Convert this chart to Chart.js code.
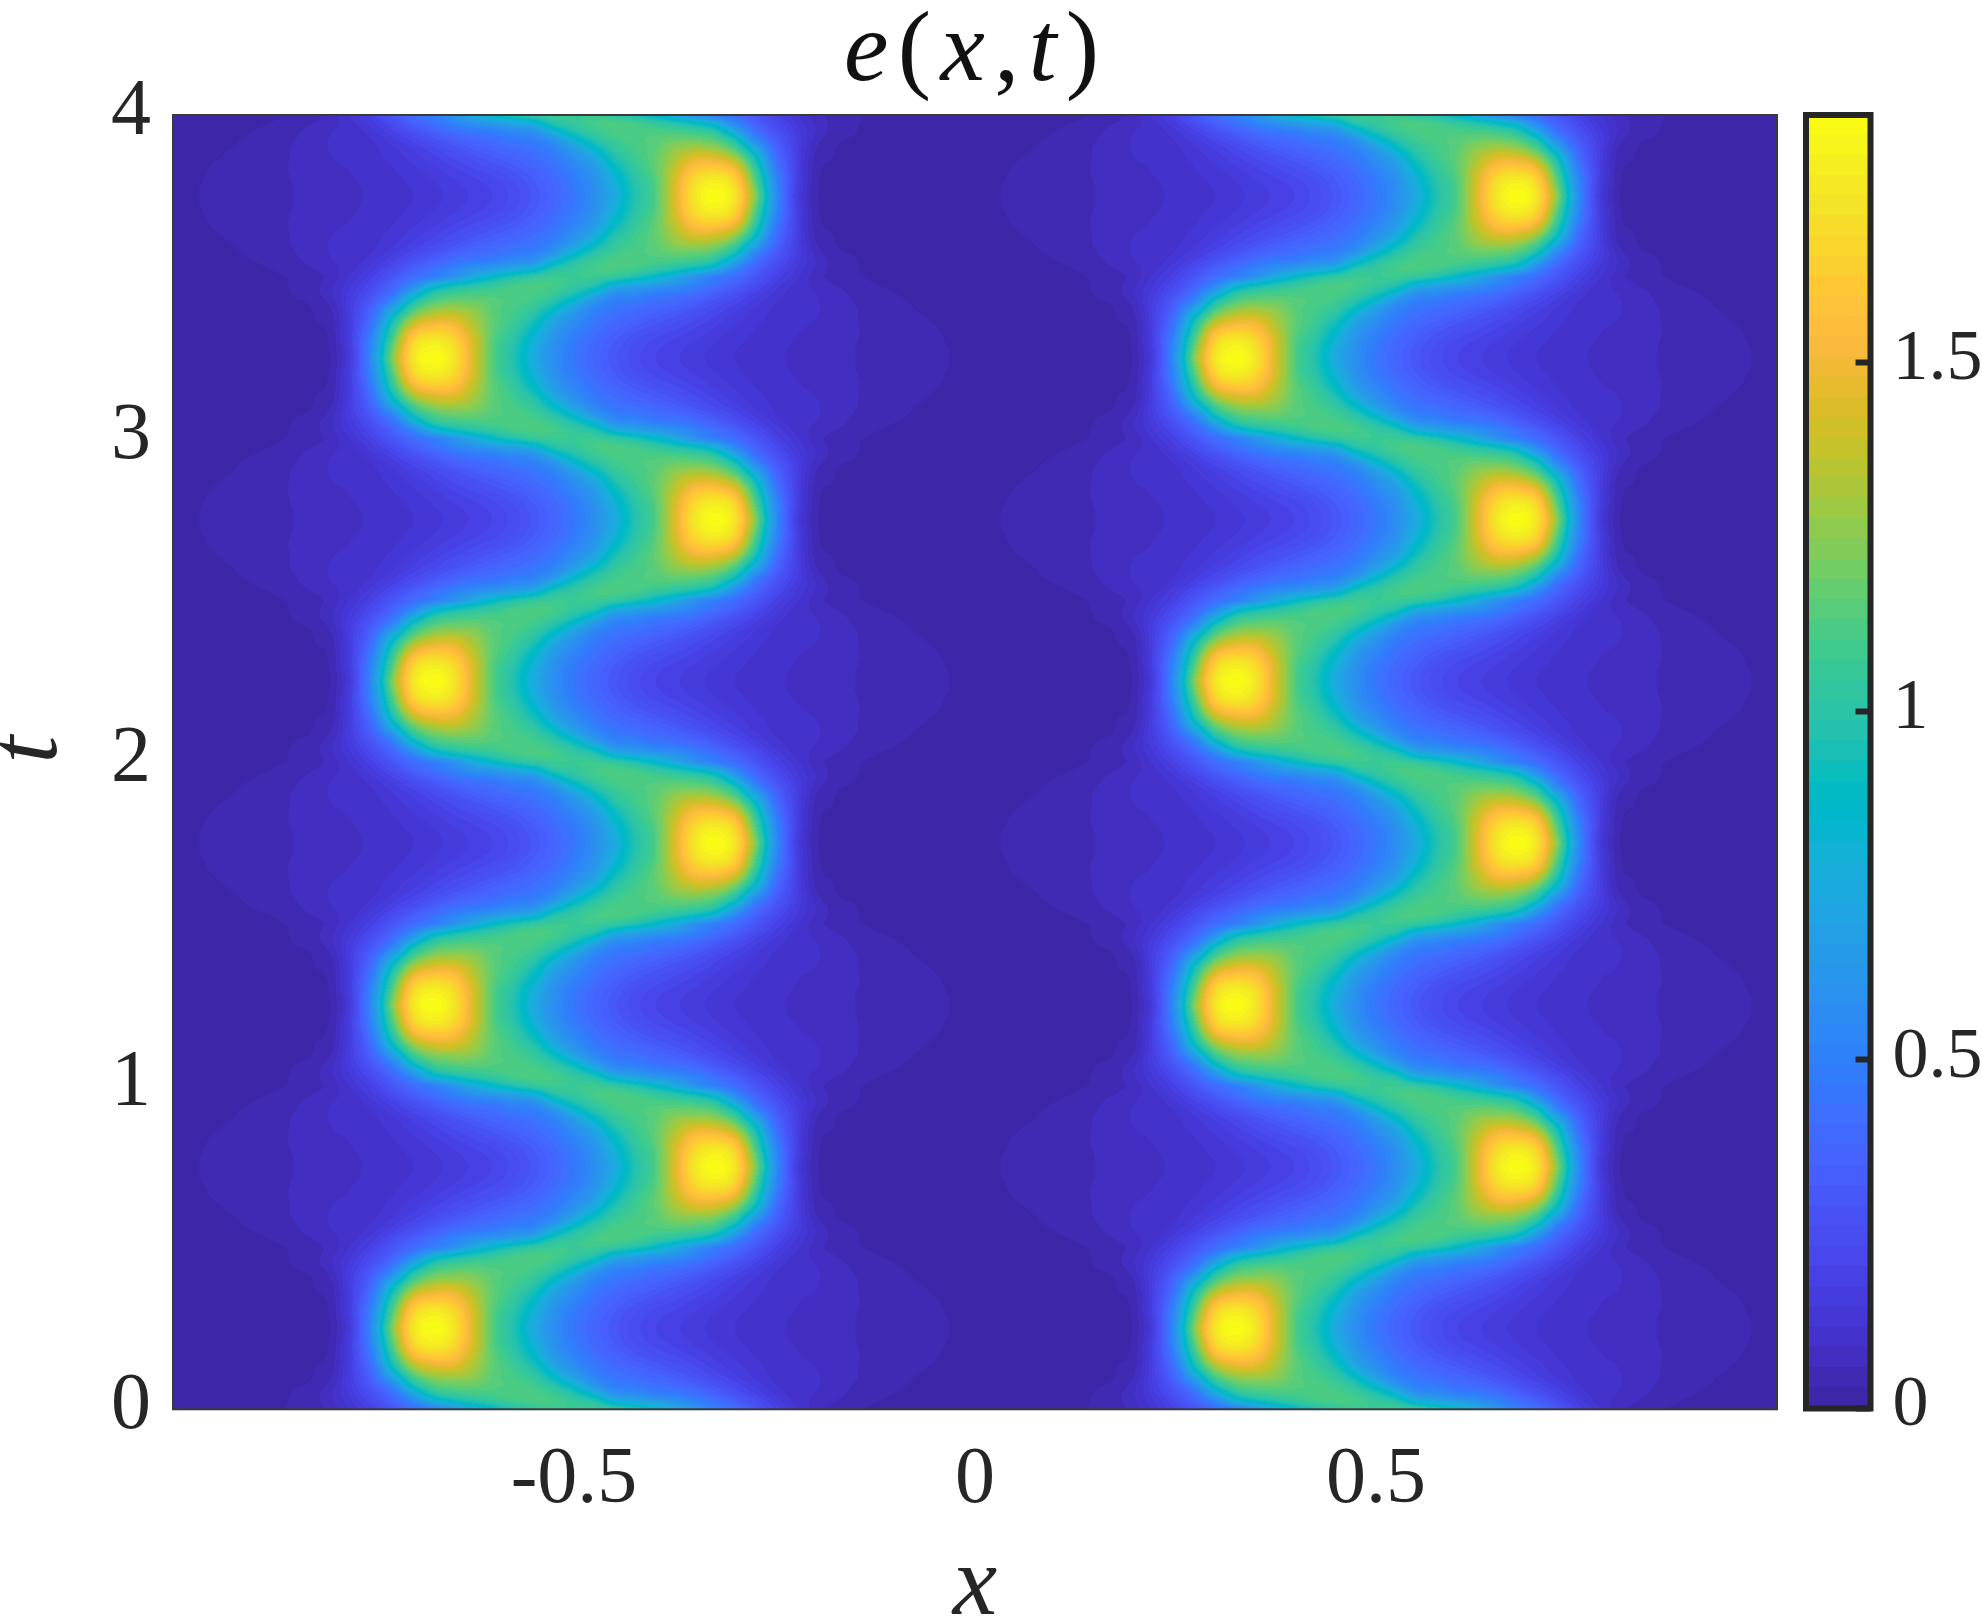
<!DOCTYPE html>
<html>
<head>
<meta charset="utf-8">
<title>e(x,t)</title>
<script src="https://cdn.jsdelivr.net/npm/chart.js@4/dist/chart.umd.js"></script>
<style>
  html, body { margin: 0; padding: 0; background: #fff; }
  #wrap { position: relative; width: 1982px; height: 1618px; overflow: hidden; }
  canvas { position: absolute; top: 0; }
  #field { left: 0; }
  #bar { left: 1780px; }
</style>
</head>
<body>
<div id="wrap">
  <canvas id="field" width="1800" height="1618"></canvas>
  <canvas id="bar" width="202" height="1618"></canvas>
</div>
<script>
// === values: e at x = -1, -0.975, ... 0, one row per t ===
const row250 = [.02,.02,.02,.02,.02,.02,.02,.024,.04,.2,.62,1.26,1.74,1.85,1.74,1.42,1.12,.96,.74,.58,.46,.37,.30,.245,.205,.18,.157,.135,.116,.104,.093,.082,.073,.066,.058,.052,.045,.039,.033,.027,.02];
const row275 = [.02,.02,.02,.02,.02,.02,.02,.024,.042,.21,.6,1.22,1.71,1.82,1.72,1.42,1.12,.97,.76,.585,.465,.375,.305,.25,.21,.185,.161,.138,.118,.105,.094,.083,.074,.066,.058,.052,.045,.039,.033,.027,.02];
const row300 = [.02,.02,.02,.02,.02,.02,.021,.025,.045,.22,.58,1.16,1.66,1.77,1.68,1.41,1.13,.99,.79,.6,.48,.39,.32,.265,.225,.197,.172,.147,.125,.108,.096,.086,.076,.067,.059,.052,.045,.039,.032,.026,.02];
const row325 = [.02,.02,.02,.02,.02,.02,.021,.026,.047,.215,.54,1.09,1.56,1.67,1.61,1.38,1.15,1.02,.84,.63,.51,.415,.345,.29,.25,.22,.19,.16,.134,.113,.099,.089,.08,.069,.06,.052,.045,.038,.031,.025,.02];
const row350 = [.02,.02,.02,.02,.02,.02,.021,.027,.05,.21,.49,1.0,1.42,1.54,1.52,1.34,1.16,1.05,.9,.68,.55,.445,.375,.325,.285,.25,.213,.178,.147,.12,.102,.09,.085,.072,.06,.052,.044,.036,.029,.024,.02];
const row375 = [.019,.02,.02,.02,.02,.02,.022,.028,.056,.205,.44,.89,1.26,1.4,1.41,1.3,1.16,1.08,.97,.76,.6,.48,.41,.365,.325,.285,.245,.2,.163,.13,.106,.091,.088,.074,.06,.05,.041,.033,.026,.022,.019];
const row400 = [.019,.02,.02,.02,.02,.021,.024,.03,.065,.2,.39,.73,1.1,1.26,1.29,1.25,1.15,1.1,1.03,.87,.68,.53,.45,.41,.37,.33,.28,.23,.182,.142,.11,.091,.09,.075,.06,.048,.037,.029,.024,.021,.019];
const row425 = [.018,.02,.02,.02,.021,.023,.027,.036,.08,.19,.33,.56,.94,1.13,1.18,1.18,1.14,1.12,1.08,.98,.82,.62,.5,.47,.42,.39,.34,.28,.22,.165,.12,.095,.09,.074,.056,.043,.033,.027,.023,.02,.018];
const row450 = [.018,.019,.02,.021,.023,.026,.03,.047,.09,.17,.28,.44,.73,.99,1.07,1.1,1.11,1.12,1.11,1.06,.96,.8,.6,.56,.5,.47,.42,.34,.27,.2,.14,.1,.087,.07,.05,.037,.029,.025,.022,.02,.018];
const row475 = [.016,.017,.019,.02,.022,.026,.031,.047,.085,.15,.24,.36,.54,.77,.89,.97,1.03,1.09,1.11,1.1,1.04,.98,.8,.72,.66,.6,.52,.43,.34,.25,.17,.11,.08,.058,.04,.03,.025,.022,.02,.018,.016];
const row500 = [.015,.016,.018,.02,.022,.026,.032,.045,.075,.13,.2,.3,.41,.5,.61,.75,.87,.96,1.03,1.07,1.07,1.07,1.03,.96,.87,.75,.61,.5,.41,.3,.2,.13,.075,.045,.032,.026,.022,.02,.018,.016,.015];

const xTicks = [-0.5, 0, 0.5];
const xTickLabels = ['-0.5', '0', '0.5'];
const tTicks = [0, 1, 2, 3, 4];
const barTicks = [0, 0.5, 1, 1.5];
const barTickLabels = ['0', '0.5', '1', '1.5'];
const eMax = 1.855;

const parula = [
  [.2422,.1504,.6603],[.2504,.1650,.7076],[.2578,.1818,.7511],[.2647,.1978,.7952],
  [.2706,.2147,.8364],[.2751,.2342,.8710],[.2783,.2559,.8991],[.2803,.2782,.9221],
  [.2813,.3006,.9414],[.2810,.3228,.9579],[.2795,.3447,.9717],[.2760,.3667,.9829],
  [.2699,.3892,.9906],[.2602,.4123,.9952],[.2440,.4358,.9988],[.2206,.4603,.9973],
  [.1963,.4847,.9892],[.1834,.5074,.9798],[.1786,.5289,.9682],[.1764,.5499,.9520],
  [.1687,.5703,.9359],[.1540,.5902,.9218],[.1460,.6091,.9079],[.1380,.6276,.8973],
  [.1248,.6459,.8883],[.1113,.6635,.8763],[.0952,.6798,.8598],[.0689,.6948,.8394],
  [.0297,.7082,.8163],[.0036,.7203,.7917],[.0067,.7312,.7660],[.0433,.7411,.7394],
  [.0964,.7500,.7120],[.1408,.7584,.6842],[.1717,.7670,.6554],[.1938,.7758,.6251],
  [.2161,.7843,.5923],[.2470,.7918,.5567],[.2906,.7973,.5188],[.3406,.8008,.4789],
  [.3909,.8029,.4354],[.4456,.8024,.3909],[.5044,.7993,.3480],[.5616,.7942,.3045],
  [.6174,.7876,.2612],[.6720,.7793,.2227],[.7242,.7698,.1910],[.7738,.7598,.1646],
  [.8203,.7498,.1535],[.8634,.7406,.1596],[.9035,.7330,.1774],[.9393,.7288,.2100],
  [.9728,.7298,.2394],[.9956,.7434,.2371],[.9970,.7659,.2199],[.9952,.7861,.1990],
  [.9892,.8137,.1885],[.9786,.8386,.1766],[.9676,.8639,.1643],[.9610,.8890,.1537],
  [.9597,.9135,.1423],[.9628,.9373,.1265],[.9691,.9606,.1064],[.9769,.9839,.0805]
];

const ink = '#262626';
const serif = '"Liberation Serif", serif';

// the picture repeats: each 0.5 in t the same rows come back mirrored about x = -0.5
const half = [row500, row475, row450, row425, row400, row375, row350, row325, row300, row275,
  row250, row275, row300, row325, row350, row375, row400, row425, row450, row475];
const period = half.concat(half.map((r) => r.slice().reverse()));
const rows = [];
for (let p = 0; p < 4; p++) period.forEach((r) => rows.push(r.concat(r.slice(1))));
rows.push(row500.concat(row500.slice(1)));

const dx = 0.025, dt = 0.025;
const points = [];
rows.forEach((r, j) => r.forEach((v, i) => points.push({ x: -1 + i * dx, y: j * dt, v: v })));

function catmull(a, b, c, d, f) {
  return b + 0.5 * f * (c - a + f * (2 * a - 5 * b + 4 * c - d + f * (3 * (b - c) + d - a)));
}

function sampleAt(x, t) {
  const nx = rows[0].length, ny = rows.length;
  const gx = (x + 1) / dx, gy = t / dt;
  const i = Math.min(Math.floor(gx), nx - 2), j = Math.min(Math.floor(gy), ny - 2);
  const fx = gx - i, fy = gy - j;
  const col = [];
  for (let m = -1; m <= 2; m++) {
    const r = rows[Math.max(0, Math.min(ny - 1, j + m))];
    col.push(catmull(r[Math.max(0, i - 1)], r[i], r[i + 1], r[Math.min(nx - 1, i + 2)], fx));
  }
  return catmull(col[0], col[1], col[2], col[3], fy);
}

// paints the e(x,t) surface in the plot area, 64 colour levels like contourf
const surfacePlugin = {
  id: 'surface',
  beforeDatasetsDraw(chart) {
    const area = chart.chartArea, xs = chart.scales.x, ys = chart.scales.y;
    const w = Math.round(area.right - area.left), h = Math.round(area.bottom - area.top);
    const off = document.createElement('canvas');
    off.width = w; off.height = h;
    const octx = off.getContext('2d');
    const img = octx.createImageData(w, h);
    for (let py = 0; py < h; py++) {
      const t = ys.getValueForPixel(area.top + py + 0.5);
      for (let px = 0; px < w; px++) {
        const x = xs.getValueForPixel(area.left + px + 0.5);
        const lev = Math.max(0, Math.min(63, Math.floor(sampleAt(x, t) / eMax * 64)));
        const c = parula[lev], o = (py * w + px) * 4;
        img.data[o] = c[0] * 255; img.data[o + 1] = c[1] * 255; img.data[o + 2] = c[2] * 255; img.data[o + 3] = 255;
      }
    }
    octx.putImageData(img, 0, 0);
    chart.ctx.drawImage(off, area.left, area.top);
  },
  afterDraw(chart) {
    const area = chart.chartArea, ctx = chart.ctx;
    ctx.save();
    ctx.strokeStyle = '#3a3a3a';
    ctx.lineWidth = 2;
    ctx.strokeRect(area.left, area.top, area.right - area.left, area.bottom - area.top);
    // title, roman brackets and italic letters
    const runs = [['e', 1], ['(', 0], ['x', 1], [',', 0], ['t', 1], [')', 0]];
    ctx.fillStyle = '#111';
    ctx.textBaseline = 'alphabetic';
    ctx.textAlign = 'left';
    let x = 844;
    runs.forEach(([s, it]) => {
      ctx.font = (it ? 'italic ' : '') + '100px ' + serif;
      ctx.fillText(s, x, 80);
      x += ctx.measureText(s).width + 9.4;
    });
    ctx.restore();
  }
};

new Chart(document.getElementById('field'), {
  type: 'scatter',
  data: { datasets: [{ label: 'e(x,t)', data: points, pointRadius: 0, pointHoverRadius: 0 }] },
  plugins: [surfacePlugin],
  options: {
    responsive: false,
    animation: false,
    events: [],
    layout: { padding: { top: 115, right: 23, left: 0, bottom: 0 } },
    plugins: { legend: { display: false }, tooltip: { enabled: false } },
    scales: {
      x: {
        type: 'linear', min: -1, max: 1,
        grid: { display: false }, border: { display: false },
        afterBuildTicks: (s) => { s.ticks = xTicks.map((v) => ({ value: v })); },
        afterFit: (s) => { s.height = 208.7; },
        ticks: {
          autoSkip: false, maxRotation: 0, padding: 24, color: ink,
          font: { family: serif, size: 80, lineHeight: 1 },
          callback: (v) => xTickLabels[xTicks.indexOf(v)]
        },
        title: { display: true, text: 'x', color: ink, padding: 0, font: { family: serif, size: 100, style: 'italic', lineHeight: 0.6 } }
      },
      y: {
        type: 'linear', min: 0, max: 4,
        grid: { display: false }, border: { display: false },
        afterBuildTicks: (s) => { s.ticks = tTicks.map((v) => ({ value: v })); },
        afterFit: (s) => { s.width = 173; },
        ticks: {
          padding: 14, color: ink, labelOffset: -2,
          font: { family: serif, size: 80, lineHeight: 1 },
          callback: (v) => String(v)
        },
        title: { display: true, text: ' t', color: ink, padding: 0, font: { family: serif, size: 100, style: 'italic', lineHeight: 0.6 } }
      }
    }
  }
});

// === colour bar, one stacked bar per colour level ===
const levelHeight = eMax / parula.length;
const barSets = parula.map((c) => ({
  data: [levelHeight],
  backgroundColor: `rgb(${Math.round(c[0] * 255)},${Math.round(c[1] * 255)},${Math.round(c[2] * 255)})`,
  borderWidth: 0,
  inflateAmount: 1,
  barPercentage: 1,
  categoryPercentage: 1
}));

const framePlugin = {
  id: 'frame',
  afterDraw(chart) {
    const area = chart.chartArea, ctx = chart.ctx;
    ctx.save();
    ctx.strokeStyle = ink;
    ctx.lineWidth = 6;
    ctx.strokeRect(area.left, area.top, area.right - area.left, area.bottom - area.top);
    ctx.restore();
  }
};

new Chart(document.getElementById('bar'), {
  type: 'bar',
  data: { labels: ['e'], datasets: barSets },
  plugins: [framePlugin],
  options: {
    responsive: false,
    animation: false,
    events: [],
    layout: { padding: { top: 115, left: 26, right: 0, bottom: 209.5 } },
    plugins: { legend: { display: false }, tooltip: { enabled: false } },
    scales: {
      x: { stacked: true, display: false },
      y: {
        stacked: true, position: 'right', min: 0, max: eMax,
        border: { display: false },
        grid: { drawOnChartArea: false, tickLength: -15, tickWidth: 6, tickColor: ink, z: 1 },
        afterBuildTicks: (s) => { s.ticks = barTicks.map((v) => ({ value: v })); },
        afterFit: (s) => { s.width = 111.5; },
        ticks: {
          padding: 37, color: ink, labelOffset: -2,
          font: { family: serif, size: 72, lineHeight: 1 },
          callback: (v) => barTickLabels[barTicks.indexOf(v)]
        }
      }
    }
  }
});
</script>
</body>
</html>
